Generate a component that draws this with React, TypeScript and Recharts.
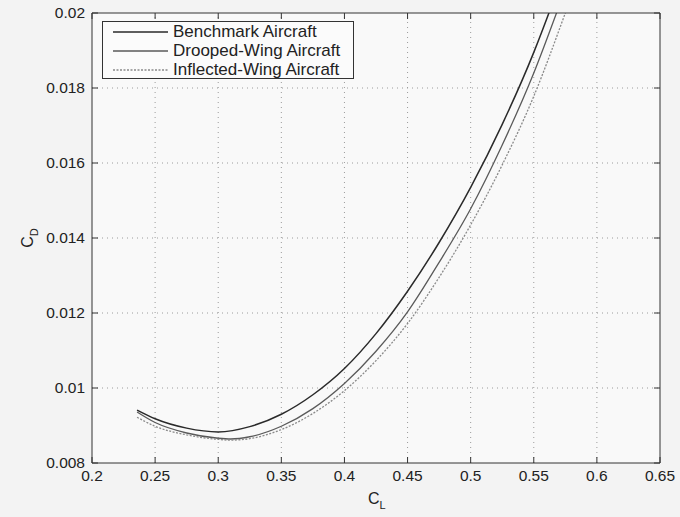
import React from "react";
import {
  LineChart,
  Line,
  XAxis,
  YAxis,
  ReferenceLine,
} from "recharts";

// lift coefficient / drag coefficient
const benchmarkCL = [0.2357, 0.25, 0.275, 0.3, 0.325, 0.35, 0.375, 0.4, 0.425, 0.45, 0.475, 0.5, 0.525, 0.55, 0.562, 0.58];
const benchmarkCD = [0.00941, 0.00918, 0.00893, 0.00883, 0.00897, 0.0093, 0.00982, 0.01052, 0.01145, 0.01258, 0.01388, 0.01535, 0.01703, 0.01895, 0.02, 0.0217];

const droopedCL = [0.2357, 0.25, 0.275, 0.3, 0.31, 0.325, 0.35, 0.375, 0.4, 0.425, 0.45, 0.475, 0.5, 0.525, 0.55, 0.568, 0.585];
const droopedCD = [0.00936, 0.00908, 0.0088, 0.00866, 0.00864, 0.0087, 0.00898, 0.00945, 0.01012, 0.01098, 0.01203, 0.01335, 0.01478, 0.01648, 0.0184, 0.02, 0.0216];

const inflectedCL = [0.2357, 0.25, 0.275, 0.3, 0.31, 0.325, 0.35, 0.375, 0.4, 0.425, 0.45, 0.475, 0.5, 0.525, 0.55, 0.575, 0.59];
const inflectedCD = [0.00922, 0.00898, 0.00875, 0.00863, 0.00861, 0.00865, 0.00889, 0.00932, 0.00993, 0.01073, 0.01172, 0.01295, 0.01435, 0.01595, 0.01778, 0.02, 0.0214];

const xTicks = [0.2, 0.25, 0.3, 0.35, 0.4, 0.45, 0.5, 0.55, 0.6, 0.65];
const yTicks = [0.008, 0.01, 0.012, 0.014, 0.016, 0.018, 0.02];

const seriesNames = ["Benchmark Aircraft", "Drooped-Wing Aircraft", "Inflected-Wing Aircraft"];

const toPoints = (cl: number[], cd: number[]) => cl.map((v, i) => ({ cl: v, cd: cd[i] }));

const series = [
  { name: seriesNames[0], data: toPoints(benchmarkCL, benchmarkCD), stroke: "#2a2a2a", width: 1.5, dash: undefined },
  { name: seriesNames[1], data: toPoints(droopedCL, droopedCD), stroke: "#5a5a5a", width: 1.3, dash: undefined },
  { name: seriesNames[2], data: toPoints(inflectedCL, inflectedCD), stroke: "#8a8a8a", width: 1.3, dash: "2 1.5" },
];

const FONT = "'Liberation Sans', Arial, Helvetica, sans-serif";
const fmt = (v: number) => String(parseFloat(v.toFixed(4)));

const BottomTick = (props: any) => {
  const { x, y, payload } = props;
  return (
    <g>
      <line x1={x} x2={x} y1={y} y2={y - 6} stroke="#333" strokeWidth={1} />
      <text x={x} y={y + 18} textAnchor="middle" fontSize={15.5} fill="#222" fontFamily={FONT}>
        {fmt(payload.value)}
      </text>
    </g>
  );
};

const LeftTick = (props: any) => {
  const { x, y, payload } = props;
  return (
    <g>
      <line x1={x} x2={x + 6} y1={y} y2={y} stroke="#333" strokeWidth={1} />
      <text x={x - 7} y={y + 5} textAnchor="end" fontSize={15.5} fill="#222" fontFamily={FONT}>
        {fmt(payload.value)}
      </text>
    </g>
  );
};

const TopTick = (props: any) => {
  const { x, y } = props;
  return <line x1={x} x2={x} y1={y} y2={y + 6} stroke="#333" strokeWidth={1} />;
};

const RightTick = (props: any) => {
  const { x, y } = props;
  return <line x1={x} x2={x - 6} y1={y} y2={y} stroke="#333" strokeWidth={1} />;
};

const XLabel = (props: any) => {
  const { viewBox } = props;
  const cx = viewBox.x + viewBox.width / 2;
  return (
    <text x={cx - 8} y={viewBox.y + 41} fontSize={16} fill="#222" fontFamily={FONT}>
      C<tspan fontSize={11} dy={5}>L</tspan>
    </text>
  );
};

const YLabel = (props: any) => {
  const { viewBox } = props;
  const cx = viewBox.x + 33;
  const cy = viewBox.y + viewBox.height / 2;
  return (
    <text x={cx} y={cy} fontSize={16} fill="#222" fontFamily={FONT} transform={`rotate(-90 ${cx} ${cy})`} textAnchor="middle">
      C<tspan fontSize={11} dy={5}>D</tspan>
    </text>
  );
};

const LegendBox = () => (
  <div
    style={{
      position: "absolute",
      left: 102,
      top: 21,
      width: 252,
      height: 58,
      boxSizing: "border-box",
      border: "1px solid #333",
      background: "#fbfbfb",
      padding: "0px 0 0 10px",
      fontFamily: FONT,
      fontSize: 17,
      color: "#222",
      lineHeight: "19px",
    }}
  >
    {series.map((s) => (
      <div key={s.name} style={{ display: "flex", alignItems: "center", whiteSpace: "nowrap" }}>
        <svg width={55} height={10} style={{ marginRight: 5, flex: "none" }}>
          <line x1={0} x2={55} y1={5} y2={5} stroke={s.stroke} strokeWidth={s.width} strokeDasharray={s.dash} />
        </svg>
        <span>{s.name}</span>
      </div>
    ))}
  </div>
);

const gridStyle = { stroke: "#9c9c9c", strokeDasharray: "1 4", strokeWidth: 1 };

export default function App() {
  return (
    <div style={{ position: "absolute", left: 0, top: 0, width: 680, height: 517, background: "#f3f3f3" }}>
      <LineChart width={680} height={517} margin={{ top: 12, right: 19, bottom: 0, left: 0 }}>
        <rect x={92} y={13} width={568} height={450} fill="#f9f9f9" />
        {xTicks.slice(1, -1).map((t) => (
          <ReferenceLine key={"x" + t} x={t} {...gridStyle} />
        ))}
        {yTicks.slice(1, -1).map((t) => (
          <ReferenceLine key={"y" + t} y={t} {...gridStyle} />
        ))}
        <XAxis
          type="number"
          dataKey="cl"
          domain={[0.2, 0.65]}
          ticks={xTicks}
          allowDataOverflow
          height={54}
          tickSize={0}
          tickMargin={0}
          tickLine={false}
          stroke="#333"
          tick={<BottomTick />}
          label={<XLabel />}
        />
        <XAxis
          xAxisId="top"
          orientation="top"
          type="number"
          dataKey="cl"
          domain={[0.2, 0.65]}
          ticks={xTicks}
          allowDataOverflow
          height={1}
          tickSize={0}
          tickMargin={0}
          tickLine={false}
          stroke="#333"
          tick={<TopTick />}
        />
        <YAxis
          type="number"
          dataKey="cd"
          domain={[0.008, 0.02]}
          ticks={yTicks}
          allowDataOverflow
          width={92}
          tickSize={0}
          tickMargin={0}
          tickLine={false}
          stroke="#333"
          tick={<LeftTick />}
          label={<YLabel />}
        />
        <YAxis
          yAxisId="right"
          orientation="right"
          type="number"
          dataKey="cd"
          domain={[0.008, 0.02]}
          ticks={yTicks}
          allowDataOverflow
          width={1}
          tickSize={0}
          tickMargin={0}
          tickLine={false}
          stroke="#333"
          tick={<RightTick />}
        />
        {series.map((s) => (
          <Line
            key={s.name}
            data={s.data}
            dataKey="cd"
            name={s.name}
            type="monotone"
            stroke={s.stroke}
            strokeWidth={s.width}
            strokeDasharray={s.dash}
            dot={false}
            activeDot={false}
            isAnimationActive={false}
          />
        ))}
      </LineChart>
      <LegendBox />
    </div>
  );
}
